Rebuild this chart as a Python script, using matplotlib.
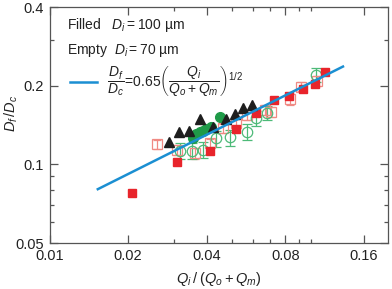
import numpy as np
import matplotlib
matplotlib.use('Agg')
import matplotlib.pyplot as plt
from matplotlib.ticker import FixedLocator, NullFormatter

plt.rcParams['font.family'] = ['Liberation Sans', 'DejaVu Sans']
plt.rcParams['mathtext.fontset'] = 'custom'
plt.rcParams['mathtext.rm'] = 'Liberation Sans'
plt.rcParams['mathtext.it'] = 'Liberation Sans:italic'
plt.rcParams['mathtext.bf'] = 'Liberation Sans:bold'

# filled symbols, D_i = 100 um
tri_x = [0.0287, 0.0313, 0.0342, 0.0376, 0.0423, 0.0476, 0.0512, 0.0551, 0.0598]
tri_y = [0.1221, 0.1330, 0.1346, 0.1488, 0.1394, 0.1488, 0.1559, 0.1639, 0.1688]

gcirc_x = [0.0355, 0.0365, 0.0376, 0.0387, 0.0399, 0.0417, 0.0449]
gcirc_y = [0.1265, 0.1307, 0.1327, 0.1346, 0.1362, 0.1394, 0.1514]

rsq_x = [0.0206, 0.0308, 0.0413, 0.0520, 0.0620, 0.0721, 0.0826, 0.0934, 0.1035, 0.1138]
rsq_y = [0.0774, 0.1018, 0.1124, 0.1362, 0.1569, 0.1764, 0.1828, 0.1939, 0.2027, 0.2253]

# empty symbols, D_i = 70 um
osq_x = [0.0258, 0.0308, 0.0360, 0.0413, 0.0462, 0.0520, 0.0570, 0.0667, 0.0707, 0.0836, 0.0921, 0.1057]
osq_y = [0.1193, 0.1134, 0.1102, 0.1204, 0.1374, 0.1436, 0.1545, 0.1615, 0.1591, 0.1775, 0.1985, 0.2092]
osq_err = [0.005, 0.005, 0.005, 0.005, 0.006, 0.006, 0.007, 0.007, 0.007, 0.008, 0.008, 0.009]

ocirc_x = [0.0317, 0.0350, 0.0387, 0.0433, 0.0493, 0.0570, 0.0620, 0.0680, 0.1051]
ocirc_y = [0.1127, 0.1127, 0.1134, 0.1258, 0.1269, 0.1333, 0.1501, 0.1577, 0.2201]
ocirc_err = [0.008, 0.008, 0.008, 0.009, 0.009, 0.009, 0.010, 0.010, 0.014]

# fit  Df/Dc = 0.65 (Qi/(Qo+Qm))^(1/2)
fit_coef = 0.65
fit_range = [0.0153, 0.133]

x_ticks = [0.01, 0.02, 0.04, 0.08, 0.16]
x_minor = [0.03, 0.05, 0.06, 0.07, 0.09, 0.1]
y_ticks = [0.05, 0.1, 0.2, 0.4]
y_minor = [0.06, 0.07, 0.08, 0.09, 0.3]

red = '#e8242b'
red_light = '#f08a84'
green = '#1f9a48'
green_light = '#4dba78'
blue = '#1b8fd2'
gray = '#555555'

fig = plt.figure(figsize=(3.92, 2.89), dpi=100)
ax = fig.add_axes([0.1265, 0.159, 0.8635, 0.816])
ax.set_xscale('log')
ax.set_yscale('log')

ax.errorbar(osq_x, osq_y, yerr=osq_err, fmt='s', ms=6.5, mfc='none', mec=red_light,
            ecolor=red_light, elinewidth=0.9, capsize=3, capthick=0.9, mew=0.9, zorder=2)
ax.errorbar(ocirc_x, ocirc_y, yerr=ocirc_err, fmt='o', ms=7.5, mfc='none', mec=green_light,
            ecolor=green_light, elinewidth=0.9, capsize=3.5, capthick=0.9, mew=0.9, zorder=2)
ax.plot(gcirc_x, gcirc_y, 'o', ms=7, color=green, mec=green, zorder=3)
ax.plot(rsq_x, rsq_y, 's', ms=6, color=red, mec=red, zorder=3)
ax.plot(tri_x, tri_y, '^', ms=7.5, color='#1e1e1e', mec='#1e1e1e', zorder=3)

xf = np.geomspace(fit_range[0], fit_range[1], 50)
fit_line, = ax.plot(xf, fit_coef * np.sqrt(xf), color=blue, lw=1.8, zorder=4)

ax.set_xlim(0.01, 0.198)
ax.set_ylim(0.05, 0.4)

ax.xaxis.set_major_locator(FixedLocator(x_ticks))
ax.xaxis.set_minor_locator(FixedLocator(x_minor))
ax.yaxis.set_major_locator(FixedLocator(y_ticks))
ax.yaxis.set_minor_locator(FixedLocator(y_minor))
ax.set_xticklabels([str(t) for t in x_ticks])
ax.set_yticklabels([str(t) for t in y_ticks])
ax.xaxis.set_minor_formatter(NullFormatter())
ax.yaxis.set_minor_formatter(NullFormatter())

ax.tick_params(which='both', direction='in', top=True, right=True, color=gray,
               labelsize=10.5, labelcolor='#222222', pad=4)
ax.tick_params(which='major', length=6, width=0.9)
ax.tick_params(which='minor', length=3, width=0.9)
for sp in ax.spines.values():
    sp.set_color(gray)
    sp.set_linewidth(0.9)

ax.set_xlabel(r'$Q_i\,/\;(Q_o + Q_m)$', fontsize=10.5, labelpad=5, color='#222222')
ax.set_ylabel(r'$D_f\,/D_c$', fontsize=10.5, color='#222222')
ax.yaxis.set_label_coords(-0.088, 0.55)

ax.text(0.05, 0.925, r'Filled   $D_i = 100$ µm', transform=ax.transAxes,
        fontsize=10, va='center', ha='left', color='#222222')
ax.text(0.05, 0.818, r'Empty  $D_i = 70$ µm', transform=ax.transAxes,
        fontsize=10, va='center', ha='left', color='#222222')

formula = r'$\dfrac{D_f}{D_c}\!=\!0.65\left(\dfrac{Q_i}{Q_o+Q_m}\right)^{1/2}$'
ax.legend([fit_line], [formula], loc='center left', bbox_to_anchor=(0.022, 0.685),
          frameon=False, handlelength=2.0, handletextpad=0.7, fontsize=10,
          labelcolor='#222222')

fig.savefig('out.png', dpi=100)
